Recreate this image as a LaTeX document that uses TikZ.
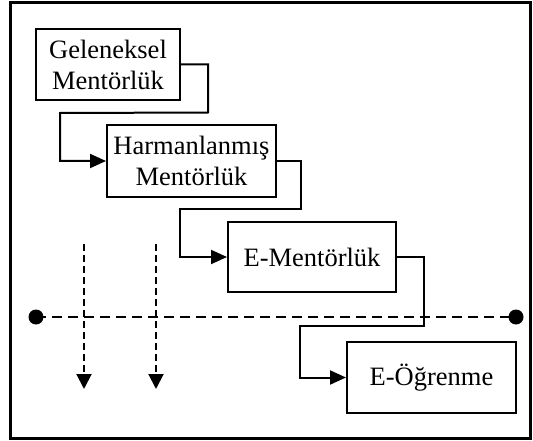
\documentclass[tikz,border=0pt]{standalone}
\usepackage{fontspec}
\setmainfont{Liberation Serif}
\usetikzlibrary{arrows.meta}
\begin{document}
\begin{tikzpicture}[x=1pt,y=-1pt,
  stagebox/.style={draw,line width=2pt,rectangle,align=center,inner sep=0pt,
    font=\fontsize{26.5}{31}\selectfont},
  conn/.style={line width=2pt,-{Triangle[length=16pt,width=14pt]}},
  timeline/.style={line width=2pt,dash pattern=on 10pt off 6pt},
  fall/.style={line width=2pt,dash pattern=on 7pt off 4pt,-{Triangle[length=15pt,width=15pt]}},
  dot/.style={circle,fill,inner sep=0pt,minimum size=15pt}]
  \useasboundingbox (0,0) rectangle (533,441);
  % outer frame
  \draw[line width=3pt] (10,3) rectangle (530,438);

  % stages
  \node[stagebox,minimum width=144pt,minimum height=71pt] (g) at (108,64.5) {Geleneksel\\Mentörlük};
  \node[stagebox,minimum width=169pt,minimum height=72pt] (h) at (191.5,161) {Harmanlanmış\\Mentörlük};
  \node[stagebox,minimum width=168pt,minimum height=70pt] (m) at (312,257) {E-Mentörlük};
  \node[stagebox,minimum width=169pt,minimum height=71pt] (o) at (431.5,377.5) {E-Öğrenme};

  % timeline with end points
  \node[dot] (l) at (36,317) {};
  \node[dot] (r) at (516,317) {};
  \draw[timeline] (l.center) -- (r.center);

  % downward dashed arrows
  \coordinate (a1) at (84,244);
  \coordinate (a1e) at (84,389);
  \coordinate (a2) at (156,244);
  \coordinate (a2e) at (156,389);
  \draw[fall] (a1) -- (a1e);
  \draw[fall] (a2) -- (a2e);

  % step connectors
  \draw[conn] (g.east) -- ++(27,0) -- ++(0,48) -- (60,113) -- (60,161) -- (h.west);
  \draw[conn] (h.east) -- ++(24,0) -- ++(0,48) -- (180,209) -- (180,257) -- (m.west);
  \draw[conn] (m.east) -- ++(27,0) -- ++(0,69) -- (300,326) -- (300,377.5) -- (o.west);
\end{tikzpicture}
\end{document}
